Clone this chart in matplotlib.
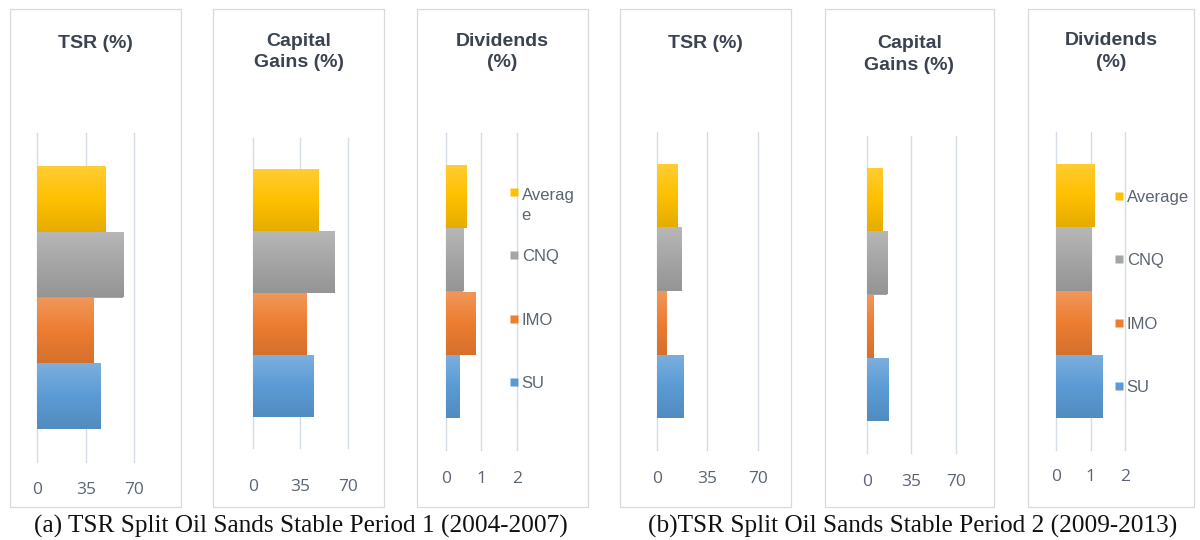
import numpy as np
import matplotlib
matplotlib.use('Agg')
import matplotlib.pyplot as plt
from matplotlib.colors import to_rgb, LinearSegmentedColormap
from matplotlib.patches import Rectangle
from matplotlib.transforms import blended_transform_factory

W, H = 1200, 540

# series, bottom to top as drawn
series = ['SU', 'IMO', 'CNQ', 'Average']
colors = ['#5B9BD5', '#ED7D31', '#A5A5A5', '#FFC000']

# values
p1_tsr = [46.0, 41.1, 62.1, 49.4]
p1_cap = [44.6, 39.5, 60.6, 48.3]
p1_div = [0.37, 0.83, 0.49, 0.57]
p2_tsr = [18.2, 6.3, 16.9, 14.3]
p2_cap = [16.8, 5.4, 16.2, 11.8]
p2_div = [1.36, 1.03, 1.03, 1.13]

pct_ticks = [0, 35, 70]
div_ticks = [0, 1, 2]

captions = ['(a) TSR Split Oil Sands Stable Period 1 (2004-2007)',
            '(b)TSR Split Oil Sands Stable Period 2 (2009-2013)']

TITLE_C = '#3B4350'
TEXT_C = '#5A6474'
GRID_C = '#D6DCE5'
BOX_C = '#D9D9D9'


def px_rect(x0, x1, ytop, ybot):
    return [x0 / W, 1 - ybot / H, (x1 - x0) / W, (ybot - ytop) / H]


def gradient_bar(ax, patch, base):
    rgb = np.array(to_rgb(base))
    top = rgb + (1 - rgb) * 0.2
    bot = rgb * 0.9
    cmap = LinearSegmentedColormap.from_list('g', [bot, rgb, top])
    x, y = patch.get_x(), patch.get_y()
    w, h = patch.get_width(), patch.get_height()
    grad = np.linspace(0, 1, 64).reshape(-1, 1)
    im = ax.imshow(grad, cmap=cmap, extent=(x, x + w, y, y + h),
                   origin='lower', aspect='auto', zorder=2)
    im.set_clip_path(patch)


# (values, ticks, title, plot area px, box px, title y, tick pad px, legend)
panels = [
    (p1_tsr, pct_ticks, 'TSR (%)', (37.3, 134.3, 133, 462), (10, 181), 43, 20, None),
    (p1_cap, pct_ticks, 'Capital\nGains (%)', (253, 347.7, 138, 448), (213, 384), 52, 31, None),
    (p1_div, div_ticks, 'Dividends\n(%)', (445.7, 516.7, 133, 450), (417, 587.5), 52, 21,
     (['SU', 'IMO', 'CNQ', 'Averag\ne'], 0.958, 1.07, 0.07)),
    (p2_tsr, pct_ticks, 'TSR (%)', (656.7, 758.2, 132, 450), (620, 791), 43, 21, None),
    (p2_cap, pct_ticks, 'Capital\nGains (%)', (866.7, 956, 136, 453), (825, 994), 54.5, 21, None),
    (p2_div, div_ticks, 'Dividends\n(%)', (1056, 1125, 132, 450), (1028, 1194), 51.5, 19,
     (series, 0.913, 1.025, 0.0)),
]

fig = plt.figure(figsize=(12, 5.4), dpi=100)

for vals, ticks, title, area, box, title_y, pad, legend in panels:
    # chart area frame
    fig.add_artist(Rectangle((box[0] / W, 1 - 507 / H), (box[1] - box[0]) / W, (507 - 9) / H,
                             transform=fig.transFigure, fill=False, ec=BOX_C, lw=0.9))
    fig.text((box[0] + box[1]) / 2 / W, 1 - title_y / H, title, ha='center', va='center',
             family='Liberation Sans', weight='bold', size=14, color=TITLE_C, linespacing=1.35)

    ax = fig.add_axes(px_rect(*area))
    ypos = np.arange(len(series))
    bars = ax.barh(ypos, vals, height=1.0, color=colors, zorder=2)
    for patch, c in zip(bars.patches, colors):
        gradient_bar(ax, patch, c)

    ax.set_xlim(ticks[0], ticks[-1])
    ax.set_ylim(-1, len(series))
    ax.set_xticks(ticks)
    ax.set_yticks([])
    ax.grid(axis='x', color=GRID_C, lw=1.0)
    ax.set_axisbelow(True)
    for line in ax.get_xgridlines():
        line.set_clip_on(False)
    for s in ax.spines.values():
        s.set_visible(False)
    ax.tick_params(axis='x', length=0, pad=pad * 0.72, labelsize=12.5, labelcolor=TEXT_C)
    for lab in ax.get_xticklabels():
        lab.set_family('Open Sans')
    ax.patch.set_alpha(0)

    if legend:
        labels, mx, tx, dy = legend
        trans = blended_transform_factory(ax.transAxes, ax.transData)
        for i, (lab, c) in enumerate(zip(labels, colors)):
            ax.plot([mx], [i + dy], marker='s', ms=5.5, color=c, mec='none',
                    transform=trans, clip_on=False)
            if '\n' in lab:
                ax.annotate(lab, (tx, i + dy), xycoords=trans, xytext=(0, 3),
                            textcoords='offset points', va='top', ha='left',
                            family='Liberation Sans', size=12, color=TEXT_C,
                            linespacing=1.4, annotation_clip=False)
            else:
                ax.text(tx, i + dy, lab, transform=trans, va='center_baseline', ha='left',
                        family='Liberation Sans', size=12, color=TEXT_C)

fig.text(300.5 / W, 1 - 526 / H, captions[0], ha='center', va='center',
         family='Liberation Serif', size=18.2, color='#111111')
fig.text(913 / W, 1 - 526 / H, captions[1], ha='center', va='center',
         family='Liberation Serif', size=18.2, color='#111111')

fig.savefig('out.png', dpi=100, facecolor='white')
